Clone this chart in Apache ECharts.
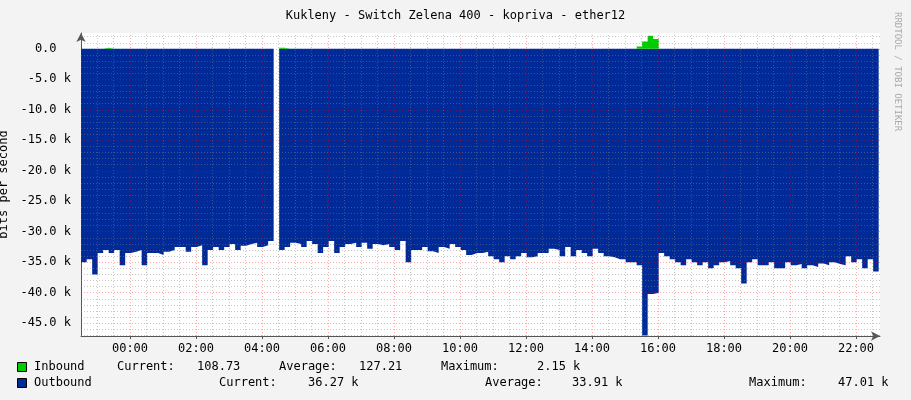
<!DOCTYPE html>
<html><head><meta charset="utf-8">
<script src="https://cdn.jsdelivr.net/npm/echarts@6/dist/echarts.min.js"></script>
<style>html,body{margin:0;padding:0;background:#f3f3f3}#c{width:911px;height:400px}</style>
</head><body><div id="c"></div>
<script>
// sampling grid: 10-minute steps, hours relative to 00:00
const startHour = -1.48;
const stepHours = 1/6;
// Outbound (k bits/s, drawn negative)
const outbound = [-35,-34.5,-37,-33.5,-33,-33.5,-33,-35.5,-33.5,-33.3,
-33,-35.5,-33.5,-33.5,-33.8,-33.3,-33,-32.5,-32.5,-33.3,
-32.5,-32.2,-35.5,-33,-32.5,-33,-32.5,-32,-33,-32.3,
-32,-31.8,-32.5,-32.2,-31.5,null,-33,-32.5,-31.8,-32,
-32.5,-31.5,-32,-33.5,-32.5,-31.5,-33.5,-32.5,-32,-31.8,
-32.5,-31.8,-32.8,-32,-32.2,-32,-32.5,-33,-31.5,-35,
-33,-33,-32.5,-33.2,-33.5,-32.5,-32.8,-32,-32.5,-33,
-33.8,-33.5,-33.5,-33.3,-34,-34.5,-35,-34,-34.5,-34,
-33.5,-34.2,-34,-33.5,-33.5,-32.8,-33,-34,-32.5,-34,
-33,-33.5,-34,-32.8,-33.5,-34,-34.2,-34.5,-34.5,-35,
-35,-35.5,-47.01,-40.2,-40,-33.5,-34,-34.5,-35,-35.5,
-34.5,-35,-35.5,-35,-36,-35.5,-35,-34.8,-35.5,-36,
-38.5,-35,-34.5,-35.5,-35.5,-35,-36,-36,-35,-35.5,
-35.3,-36,-35.5,-35.8,-35.2,-35.5,-35,-35.3,-35.5,-34,
-35,-34.5,-36,-34.5,-36.5,-36.3];
// Inbound (k bits/s): near zero except a few peaks
const inbound = outbound.map(()=>0);
const inboundPeaks = {4:0.2,36:0.2,101:0.4,102:1.2,103:2.15,104:1.6};
const yTicks = [0,-5,-10,-15,-20,-25,-30,-35,-40,-45];
const xTicks = [0,2,4,6,8,10,12,14,16,18,20,22];

for (const k in inboundPeaks) inbound[k] = inboundPeaks[k];
inbound[35] = null;
const times = outbound.map((_,i)=>startHour + i*stepHours);
const outData = outbound.map((v,i)=>[times[i], v]);
const inData = inbound.map((v,i)=>[times[i], v]);

const xMin = -1.485, xMax = 22.727, yMin = -47.1, yMax = 2.6;
const gridLines = [];
for (let y = Math.ceil(yMin); y <= Math.floor(yMax); y++) {
  gridLines.push({yAxis: y, lineStyle: {color: y % 5 === 0 ? 'rgba(255,0,0,0.35)' : 'rgba(130,130,130,0.45)', type: [1,2], width: 1}});
}
for (let h = Math.ceil(xMin*2)/2; h <= xMax; h += 0.5) {
  gridLines.push({xAxis: h, lineStyle: {color: (Math.abs(h % 2) < 1e-6) ? 'rgba(255,0,0,0.35)' : 'rgba(130,130,130,0.45)', type: [1,2], width: 1}});
}
const mono = 'DejaVu Sans Mono';
const chart = echarts.init(document.getElementById('c'));
function txt(x,y,s){return {type:'text',left:x,top:y,style:{text:s,font:'12px "'+mono+'"',fill:'#000'}};}
chart.setOption({
  animation:false,
  backgroundColor:'#f3f3f3',
  title:{text:'Kukleny - Switch Zelena 400 - kopriva - ether12',left:'center',top:5,
    textStyle:{fontFamily:mono,fontSize:12,fontWeight:'normal',color:'#000'}},
  grid:{left:81,right:31,top:33,bottom:64,show:true,backgroundColor:'#fff',borderWidth:0,
    containLabel:false,outerBoundsMode:'none'},
  xAxis:{type:'value',min:xMin,max:xMax,
    axisLine:{onZero:false,lineStyle:{color:'#555'},symbol:['none','arrow'],symbolSize:[7,9]},
    axisTick:{customValues:xTicks,length:3,lineStyle:{color:'#555'}},
    splitLine:{show:false},
    axisLabel:{customValues:xTicks,fontFamily:mono,fontSize:12,color:'#000',margin:7,
      formatter:v=>String(v).padStart(2,'0')+':00'}},
  yAxis:{type:'value',min:yMin,max:yMax,
    name:'bits per second',nameLocation:'middle',nameGap:68,nameRotate:90,
    nameTextStyle:{fontFamily:mono,fontSize:12,color:'#000'},
    axisLine:{show:true,onZero:false,lineStyle:{color:'#555'},symbol:['none','arrow'],symbolSize:[7,9]},
    axisTick:{show:false},
    splitLine:{show:false},
    axisLabel:{customValues:yTicks,fontFamily:mono,fontSize:12,color:'#000',margin:10,
      formatter:v=>v===0?'0.0  ':v.toFixed(1)+' k'}},
  series:[
    {type:'line',data:outData,step:'end',symbol:'none',lineStyle:{width:0},
      areaStyle:{color:'#002a97',opacity:1,origin:0},connectNulls:false,z:2},
    {type:'line',data:inData,step:'end',symbol:'none',lineStyle:{width:0},
      areaStyle:{color:'#00cc00',opacity:1,origin:0},z:2},
    {type:'line',data:[],z:5,silent:true,
      markLine:{silent:true,symbol:'none',label:{show:false},data:gridLines}}
  ],
  graphic:[
    {type:'text',left:893,top:12,rotation:-Math.PI/2,style:{text:'RRDTOOL / TOBI OETIKER',font:'9px "'+mono+'"',fill:'#aaa'}},
    {type:'rect',left:17,top:362,shape:{width:9,height:9},style:{fill:'#00cc00',stroke:'#000'}},
    {type:'rect',left:17,top:378,shape:{width:9,height:9},style:{fill:'#002a97',stroke:'#000'}},
    txt(34,361,'Inbound'),txt(117,361,'Current:'),txt(197,361,'108.73'),txt(279,361,'Average:'),
    txt(359,361,'127.21'),txt(441,361,'Maximum:'),txt(537,361,'2.15 k'),
    txt(34,377,'Outbound'),txt(219,377,'Current:'),txt(308,377,'36.27 k'),txt(485,377,'Average:'),
    txt(572,377,'33.91 k'),txt(749,377,'Maximum:'),txt(838,377,'47.01 k')
  ]
});
</script></body></html>
